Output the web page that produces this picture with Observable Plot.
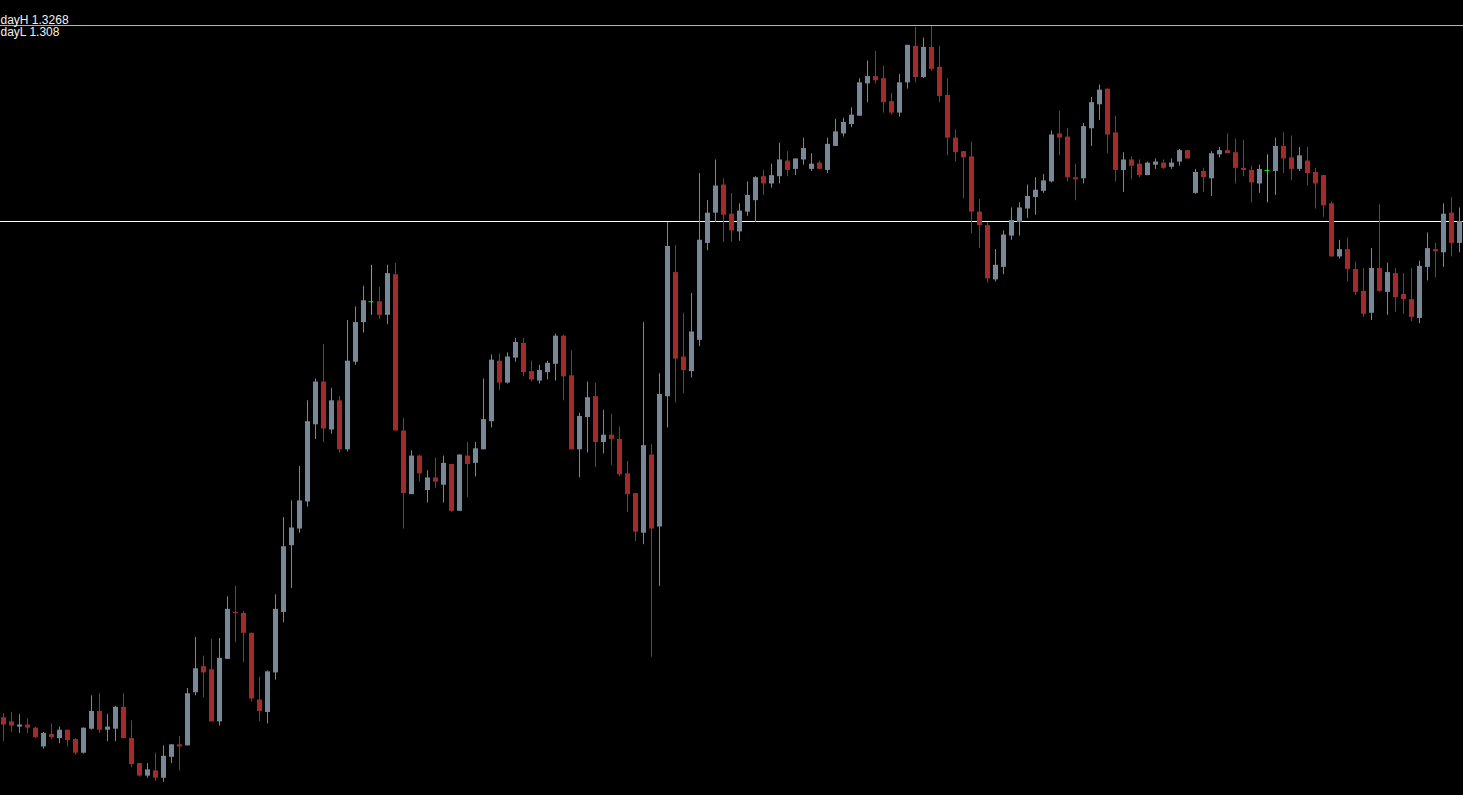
<!DOCTYPE html>
<html>
<head>
<meta charset="utf-8">
<script src="https://cdn.jsdelivr.net/npm/d3@7"></script>
<script src="https://cdn.jsdelivr.net/npm/@observablehq/plot@0.6"></script>
<style>
  html, body { margin: 0; padding: 0; background: #000; overflow: hidden; }
  #chart svg { display: block; }
</style>
</head>
<body>
<div id="chart"></div>
<script>
// Reference levels
const dayH = 1.3268;
const dayL = 1.308;

// OHLC series, one value per bar (left to right)
const open = [
  1.2604,1.2600,1.2595,1.2597,1.2594,1.2576,1.2588,1.2584,1.2592,1.2583,
  1.2570,1.2593,1.2610,1.2592,1.2593,1.2614,1.2584,1.2560,1.2548,1.2553,
  1.2546,1.2566,1.2578,1.2577,1.2628,1.2653,1.2650,1.2600,1.2660,1.2705,
  1.2704,1.2685,1.2621,1.2609,1.2647,1.2705,1.2769,1.2785,1.2811,1.2885,
  1.2926,1.2880,1.2908,1.2861,1.2945,1.2983,1.3003,1.3003,1.2990,1.3029,
  1.2879,1.2818,1.2855,1.2822,1.2834,1.2827,1.2847,1.2802,1.2855,1.2848,
  1.2861,1.2888,1.2946,1.2925,1.2949,1.2963,1.2936,1.2927,1.2935,1.2943,
  1.2970,1.2932,1.2861,1.2892,1.2912,1.2868,1.2875,1.2871,1.2838,1.2819,
  1.2781,1.2856,1.2787,1.2912,1.3031,1.2950,1.2936,1.2966,1.3059,1.3088,
  1.3115,1.3087,1.3070,1.3089,1.3100,1.3123,1.3116,1.3123,1.3138,1.3130,
  1.3139,1.3130,1.3136,1.3129,1.3152,1.3164,1.3173,1.3181,1.3212,1.3219,
  1.3217,1.3195,1.3184,1.3213,1.3248,1.3218,1.3247,1.3228,1.3201,1.3160,
  1.3147,1.3142,1.3089,1.3076,1.3024,1.3036,1.3066,1.3079,1.3092,1.3103,
  1.3109,1.3118,1.3164,1.3161,1.3122,1.3121,1.3169,1.3192,1.3207,1.3165,
  1.3129,1.3139,1.3135,1.3124,1.3134,1.3136,1.3132,1.3137,1.3148,1.3107,
  1.3128,1.3121,1.3144,1.3148,1.3146,1.3131,1.3129,1.3116,1.3129,1.3128,
  1.3152,1.3141,1.3130,1.3138,1.3127,1.3124,1.3097,1.3046,1.3053,1.3034,
  1.3013,1.2992,1.3035,1.3012,1.3030,1.3010,1.3005,1.2987,1.3036,1.3053,
  1.3050,1.3088,1.3059
];
const high = [
  1.2608,1.2609,1.2607,1.2603,1.2595,1.2590,1.2598,1.2595,1.2592,1.2584,
  1.2594,1.2625,1.2627,1.2607,1.2615,1.2627,1.2601,1.2560,1.2560,1.2570,
  1.2577,1.2578,1.2586,1.2632,1.2681,1.2663,1.2679,1.2680,1.2720,1.2730,
  1.2706,1.2685,1.2643,1.2649,1.2722,1.2796,1.2812,1.2845,1.2908,1.2929,
  1.2962,1.2920,1.2912,1.2985,1.2998,1.3018,1.3038,1.3017,1.3038,1.3040,
  1.2891,1.2860,1.2856,1.2841,1.2853,1.2855,1.2847,1.2856,1.2868,1.2868,
  1.2929,1.2952,1.2953,1.2954,1.2968,1.2968,1.2946,1.2942,1.2946,1.2972,
  1.2971,1.2956,1.2896,1.2926,1.2925,1.2899,1.2895,1.2883,1.2850,1.2819,
  1.2983,1.2866,1.2934,1.3079,1.3057,1.2992,1.3011,1.3126,1.3100,1.3139,
  1.3121,1.3107,1.3097,1.3118,1.3123,1.3129,1.3135,1.3155,1.3147,1.3140,
  1.3160,1.3145,1.3138,1.3160,1.3178,1.3179,1.3189,1.3217,1.3234,1.3243,
  1.3229,1.3203,1.3221,1.3249,1.3266,1.3256,1.3267,1.3248,1.3217,1.3168,
  1.3147,1.3156,1.3101,1.3079,1.3053,1.3071,1.3093,1.3098,1.3115,1.3122,
  1.3125,1.3167,1.3186,1.3169,1.3135,1.3174,1.3199,1.3211,1.3207,1.3181,
  1.3146,1.3142,1.3139,1.3137,1.3140,1.3139,1.3140,1.3149,1.3148,1.3130,
  1.3131,1.3147,1.3151,1.3164,1.3159,1.3158,1.3133,1.3134,1.3144,1.3160,
  1.3165,1.3162,1.3151,1.3151,1.3131,1.3124,1.3099,1.3062,1.3064,1.3041,
  1.3035,1.3054,1.3096,1.3040,1.3035,1.3030,1.3035,1.3042,1.3069,1.3059,
  1.3097,1.3103,1.3093
];
const low = [
  1.2581,1.2590,1.2589,1.2589,1.2584,1.2574,1.2583,1.2579,1.2576,1.2568,
  1.2569,1.2592,1.2589,1.2581,1.2581,1.2584,1.2556,1.2547,1.2546,1.2543,
  1.2542,1.2560,1.2553,1.2577,1.2625,1.2623,1.2600,1.2596,1.2660,1.2676,
  1.2657,1.2619,1.2600,1.2598,1.2640,1.2695,1.2728,1.2781,1.2806,1.2871,
  1.2868,1.2876,1.2858,1.2859,1.2942,1.2973,1.2990,1.2986,1.2981,1.2879,
  1.2785,1.2818,1.2830,1.2810,1.2824,1.2810,1.2801,1.2802,1.2815,1.2835,
  1.2861,1.2882,1.2918,1.2924,1.2945,1.2931,1.2926,1.2924,1.2928,1.2927,
  1.2908,1.2861,1.2834,1.2858,1.2844,1.2857,1.2846,1.2835,1.2801,1.2773,
  1.2770,1.2662,1.2730,1.2882,1.2906,1.2915,1.2930,1.2960,1.3052,1.3079,
  1.3060,1.3060,1.3061,1.3085,1.3079,1.3105,1.3112,1.3116,1.3123,1.3124,
  1.3134,1.3128,1.3130,1.3126,1.3152,1.3161,1.3170,1.3181,1.3194,1.3212,
  1.3184,1.3182,1.3180,1.3207,1.3213,1.3217,1.3224,1.3194,1.3143,1.3137,
  1.3102,1.3068,1.3054,1.3021,1.3022,1.3029,1.3062,1.3066,1.3083,1.3086,
  1.3107,1.3117,1.3143,1.3118,1.3100,1.3116,1.3152,1.3177,1.3145,1.3118,
  1.3108,1.3120,1.3122,1.3124,1.3130,1.3130,1.3130,1.3133,1.3140,1.3106,
  1.3108,1.3104,1.3141,1.3145,1.3116,1.3123,1.3098,1.3107,1.3098,1.3105,
  1.3126,1.3119,1.3128,1.3114,1.3092,1.3084,1.3046,1.3044,1.3022,1.3009,
  1.2988,1.2985,1.3012,1.2990,1.2993,1.2991,1.2984,1.2982,1.3023,1.3026,
  1.3036,1.3046,1.3050
];
const close = [
  1.2597,1.2596,1.2597,1.2594,1.2585,1.2589,1.2585,1.2592,1.2582,1.2570,
  1.2594,1.2610,1.2592,1.2595,1.2614,1.2584,1.2559,1.2548,1.2554,1.2546,
  1.2567,1.2578,1.2576,1.2627,1.2651,1.2647,1.2600,1.2661,1.2708,1.2704,
  1.2685,1.2622,1.2610,1.2648,1.2708,1.2768,1.2786,1.2812,1.2888,1.2926,
  1.2881,1.2908,1.2861,1.2946,1.2983,1.3004,1.3003,1.2990,1.3030,1.2879,
  1.2819,1.2855,1.2838,1.2834,1.2830,1.2848,1.2802,1.2856,1.2847,1.2862,
  1.2890,1.2947,1.2925,1.2950,1.2964,1.2935,1.2928,1.2937,1.2944,1.2970,
  1.2931,1.2861,1.2893,1.2911,1.2868,1.2875,1.2871,1.2837,1.2818,1.2782,
  1.2865,1.2785,1.2914,1.3056,1.2948,1.2937,1.2974,1.3062,1.3088,1.3114,
  1.3086,1.3071,1.3090,1.3105,1.3122,1.3116,1.3124,1.3139,1.3129,1.3140,
  1.3150,1.3135,1.3130,1.3154,1.3166,1.3175,1.3182,1.3213,1.3219,1.3215,
  1.3194,1.3184,1.3213,1.3249,1.3218,1.3247,1.3226,1.3200,1.3160,1.3146,
  1.3141,1.3089,1.3076,1.3025,1.3038,1.3067,1.3081,1.3093,1.3104,1.3110,
  1.3119,1.3163,1.3160,1.3122,1.3120,1.3171,1.3194,1.3206,1.3163,1.3129,
  1.3139,1.3133,1.3124,1.3136,1.3137,1.3131,1.3136,1.3148,1.3140,1.3127,
  1.3122,1.3145,1.3148,1.3145,1.3131,1.3129,1.3117,1.3130,1.3129,1.3152,
  1.3140,1.3130,1.3143,1.3126,1.3116,1.3095,1.3046,1.3053,1.3034,1.3012,
  1.2991,1.3035,1.3013,1.3031,1.3007,1.3005,1.2988,1.3037,1.3054,1.3051,
  1.3087,1.3059,1.3080
];

const bullColor = "#778899";
const bearColor = "#a52a2a";
const dojiColor = "#00ff00";

const bars = d3.range(open.length).map(i => ({
  i, open: open[i], high: high[i], low: low[i], close: close[i]
}));
const color = d => d.close > d.open ? bullColor : d.close < d.open ? bearColor : dojiColor;

const chart = Plot.plot({
  width: 1463,
  height: 795,
  margin: 0,
  style: {background: "#000", color: "#fff"},
  x: {type: "band", domain: bars.map(d => d.i), range: [-1, 1463], padding: 0, axis: null},
  y: {domain: [1.25294, 1.32920], axis: null},
  marks: [
    Plot.ruleY([dayL], {stroke: "#ffffff", strokeWidth: 1}),
    Plot.ruleY([dayH], {stroke: "#5ee6ae", strokeWidth: 1}),
    Plot.ruleX(bars, {x: "i", y1: "low", y2: "high", stroke: color, strokeWidth: 1}),
    Plot.ruleX(bars, {x: "i", y1: "open", y2: "close", stroke: color, strokeWidth: 5}),
    Plot.tickY(bars.filter(d => d.open === d.close), {x: "i", y: "close", stroke: dojiColor, insetLeft: 1.5, insetRight: 1.5}),
    Plot.text([`dayH ${dayH}`], {frameAnchor: "top-left", textAnchor: "start", lineAnchor: "top", dy: 15, fill: "#f2f2f2", fontSize: 12, fontFamily: "Liberation Sans, Arial, sans-serif"}),
    Plot.text([`dayL ${dayL}`], {frameAnchor: "top-left", textAnchor: "start", lineAnchor: "top", dy: 27, fill: "#f2f2f2", fontSize: 12, fontFamily: "Liberation Sans, Arial, sans-serif"})
  ]
});
document.getElementById("chart").appendChild(chart);
</script>
</body>
</html>
